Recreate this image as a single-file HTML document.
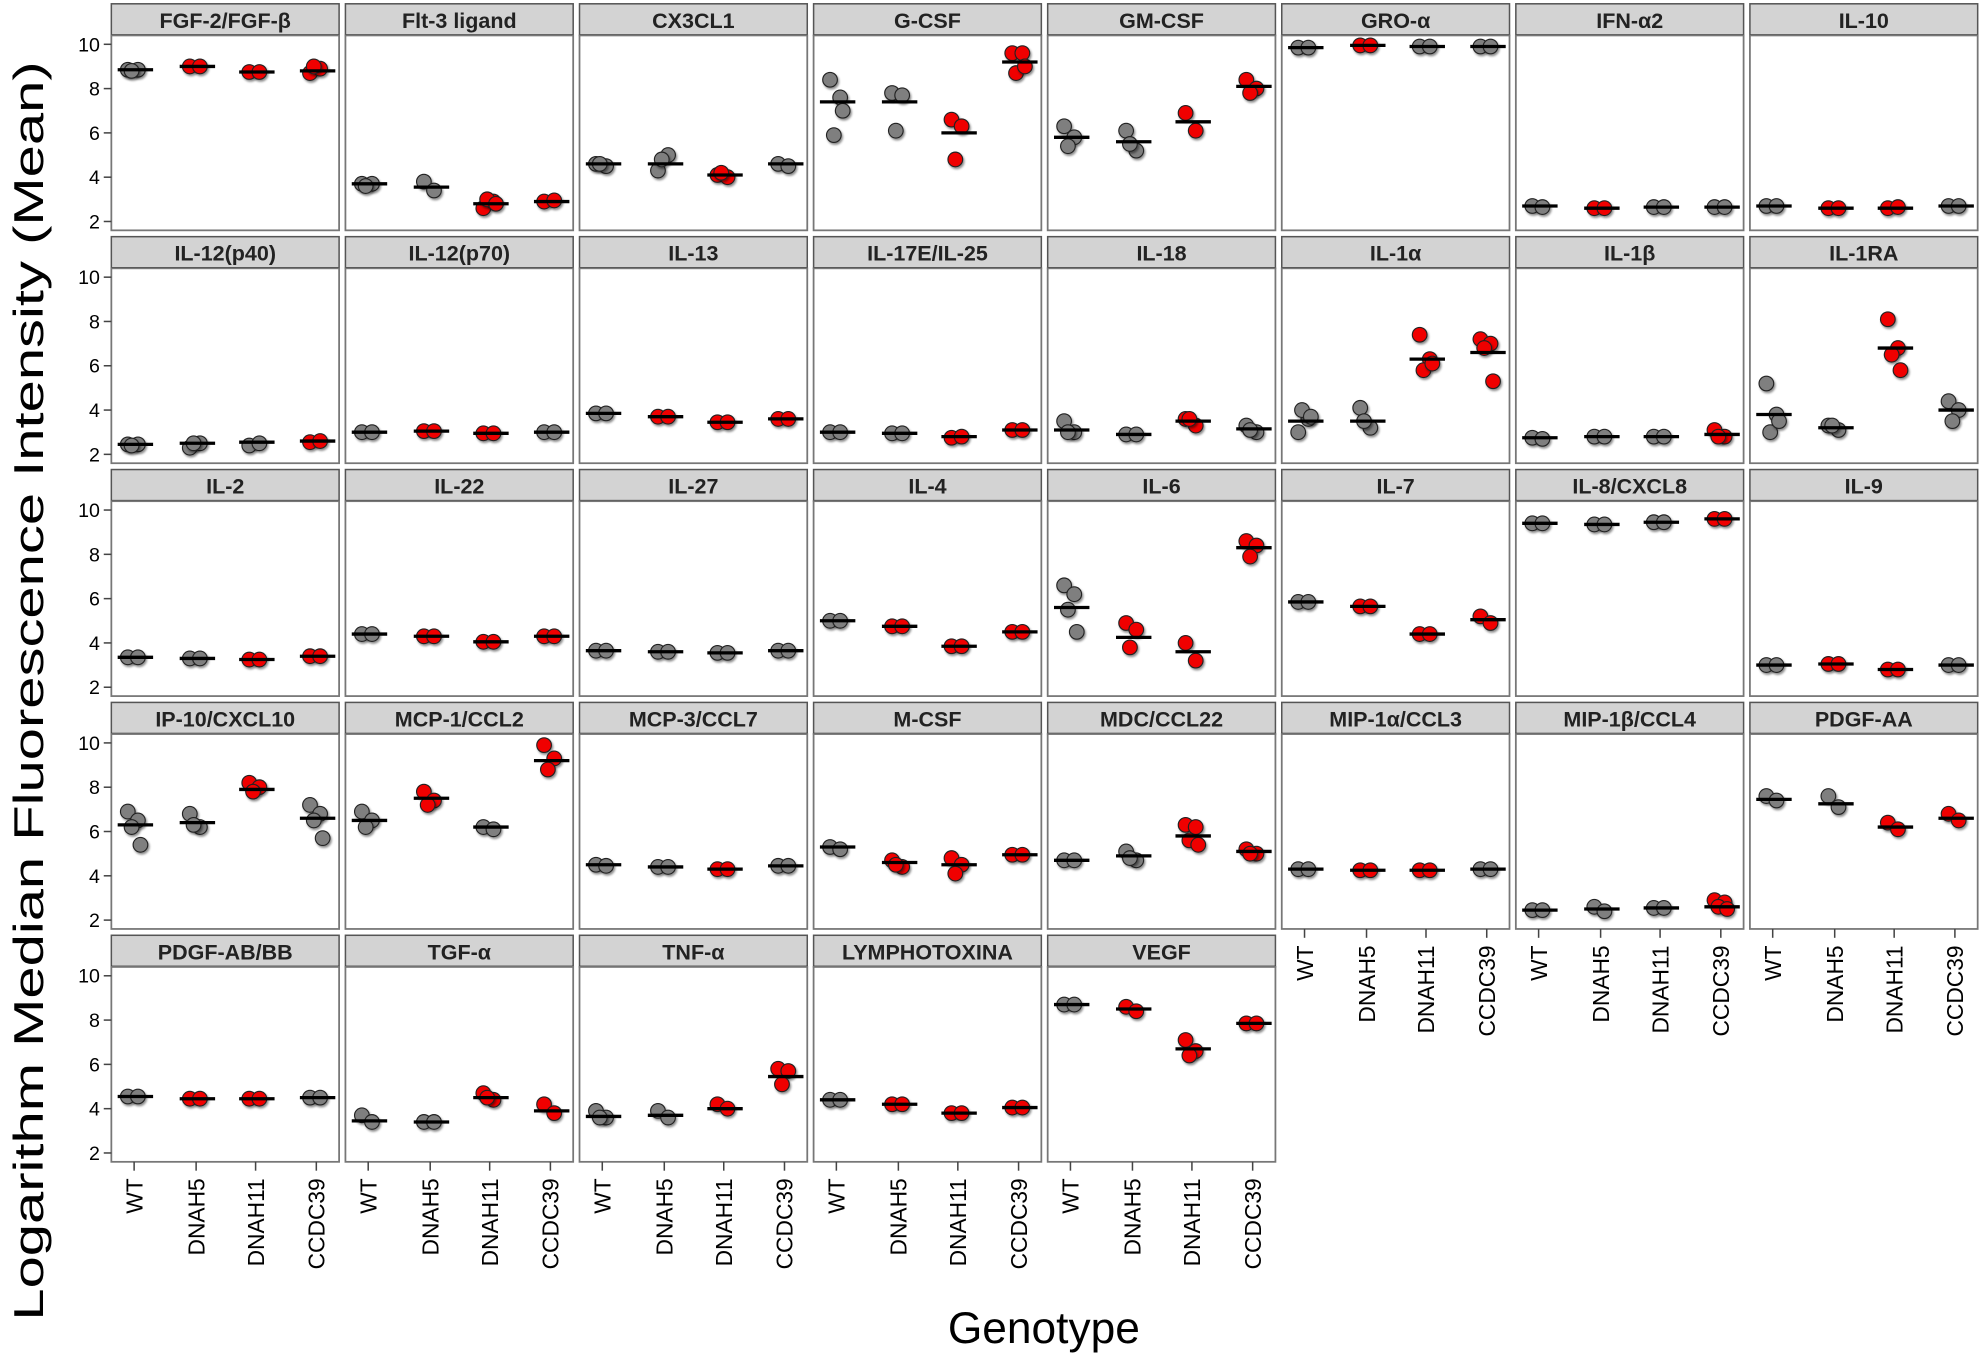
<!DOCTYPE html>
<html><head><meta charset="utf-8"><style>
html,body{margin:0;padding:0;background:#fff;}
svg{display:block;}
text{font-family:"Liberation Sans",Arial,sans-serif;}
</style></head><body>
<svg id="s" xmlns="http://www.w3.org/2000/svg" width="1984" height="1358" viewBox="0 0 1568 1073" preserveAspectRatio="none">
<defs><filter id="sh" x="-50%" y="-50%" width="200%" height="200%"><feDropShadow dx="1" dy="1.5" stdDeviation="0.8" flood-color="#000" flood-opacity="0.45"/></filter></defs>
<text x="0" y="0" transform="translate(34,546) rotate(-90)" font-size="33" text-anchor="middle" textLength="995" lengthAdjust="spacingAndGlyphs">Logarithm Median Fluorescence Intensity (Mean)</text>
<text x="825" y="1061" font-size="35" text-anchor="middle">Genotype</text>
</svg>
<script>
var G='g',R='r';
var P=[
["FGF-2/FGF-β",[[8.85,[8.85,8.85,8.8],G],[9.0,[9.0,9.0],R],[8.75,[8.75,8.75],R],[8.8,[8.7,8.9,9.0],R]]],
["Flt-3 ligand",[[3.7,[3.7,3.7,3.6],G],[3.55,[3.8,3.4],G],[2.8,[2.6,2.9,3.0,2.8],R],[2.9,[2.9,2.95],R]]],
["CX3CL1",[[4.6,[4.6,4.5,4.6],G],[4.6,[4.3,5.0,4.8],G],[4.1,[4.1,4.0,4.2],R],[4.6,[4.6,4.5],G]]],
["G-CSF",[[7.4,[8.4,7.6,5.9,7.0],G],[7.4,[7.8,7.7,6.1],G],[6.0,[6.6,6.3,4.8],R],[9.2,[9.6,9.6,8.7,9.0],R]]],
["GM-CSF",[[5.8,[6.3,5.8,5.4],G],[5.6,[6.1,5.2,5.5],G],[6.5,[6.9,6.1],R],[8.1,[8.4,8.0,7.8],R]]],
["GRO-α",[[9.85,[9.85,9.85],G],[9.95,[9.95,9.95],R],[9.9,[9.9,9.9],G],[9.9,[9.9,9.9],G]]],
["IFN-α2",[[2.7,[2.7,2.65],G],[2.6,[2.6,2.6],R],[2.65,[2.65,2.65],G],[2.65,[2.65,2.65],G]]],
["IL-10",[[2.7,[2.7,2.7],G],[2.6,[2.6,2.6],R],[2.6,[2.6,2.65],R],[2.7,[2.7,2.7],G]]],
["IL-12(p40)",[[2.45,[2.45,2.45,2.4],G],[2.5,[2.3,2.5,2.5],G],[2.55,[2.4,2.5],G],[2.6,[2.55,2.6],R]]],
["IL-12(p70)",[[3.0,[3.0,3.0],G],[3.05,[3.05,3.05],R],[2.95,[2.95,2.95],R],[3.0,[3.0,3.0],G]]],
["IL-13",[[3.85,[3.85,3.85],G],[3.7,[3.7,3.7],R],[3.45,[3.45,3.45],R],[3.6,[3.6,3.6],R]]],
["IL-17E/IL-25",[[3.0,[3.0,3.0],G],[2.95,[2.95,2.95],G],[2.8,[2.75,2.8],R],[3.1,[3.1,3.1],R]]],
["IL-18",[[3.1,[3.5,3.0,3.0],G],[2.9,[2.9,2.9],G],[3.5,[3.6,3.3,3.6],R],[3.15,[3.3,3.0,3.1],G]]],
["IL-1α",[[3.5,[3.0,3.6,4.0,3.7],G],[3.5,[4.1,3.2,3.5],G],[6.3,[7.4,6.3,5.8,6.1],R],[6.6,[7.2,7.0,6.8,5.3],R]]],
["IL-1β",[[2.75,[2.75,2.7],G],[2.8,[2.8,2.8],G],[2.8,[2.8,2.8],G],[2.9,[3.1,2.8,2.8],R]]],
["IL-1RA",[[3.8,[5.2,3.8,3.0,3.5],G],[3.2,[3.3,3.1,3.3],G],[6.8,[8.1,6.8,6.5,5.8],R],[4.0,[4.4,4.0,3.5],G]]],
["IL-2",[[3.35,[3.35,3.35],G],[3.3,[3.3,3.3],G],[3.25,[3.25,3.25],R],[3.4,[3.4,3.4],R]]],
["IL-22",[[4.4,[4.4,4.4],G],[4.3,[4.3,4.3],R],[4.05,[4.05,4.05],R],[4.3,[4.3,4.3],R]]],
["IL-27",[[3.65,[3.65,3.65],G],[3.6,[3.6,3.6],G],[3.55,[3.55,3.55],G],[3.65,[3.65,3.65],G]]],
["IL-4",[[5.0,[5.0,5.0],G],[4.75,[4.75,4.75],R],[3.85,[3.85,3.85],R],[4.5,[4.5,4.5],R]]],
["IL-6",[[5.6,[6.6,6.2,5.5,4.5],G],[4.25,[4.9,4.6,3.8],R],[3.6,[4.0,3.2],R],[8.3,[8.6,8.4,7.9],R]]],
["IL-7",[[5.85,[5.85,5.85],G],[5.65,[5.65,5.65],R],[4.4,[4.4,4.4],R],[5.05,[5.2,4.9],R]]],
["IL-8/CXCL8",[[9.4,[9.4,9.4],G],[9.35,[9.35,9.35],G],[9.45,[9.45,9.45],G],[9.6,[9.6,9.6],R]]],
["IL-9",[[3.0,[3.0,3.0],G],[3.05,[3.05,3.05],R],[2.8,[2.8,2.8],R],[3.0,[3.0,3.0],G]]],
["IP-10/CXCL10",[[6.3,[6.9,6.5,6.2,5.4],G],[6.4,[6.8,6.2,6.3],G],[7.9,[8.2,8.0,7.8],R],[6.6,[7.2,6.8,6.5,5.7],G]]],
["MCP-1/CCL2",[[6.5,[6.9,6.5,6.2],G],[7.5,[7.8,7.4,7.2],R],[6.2,[6.2,6.1],G],[9.2,[9.9,9.3,8.8],R]]],
["MCP-3/CCL7",[[4.5,[4.5,4.45],G],[4.4,[4.4,4.4],G],[4.3,[4.3,4.3],R],[4.45,[4.45,4.45],G]]],
["M-CSF",[[5.3,[5.3,5.2],G],[4.6,[4.7,4.4,4.5],R],[4.5,[4.8,4.5,4.1],R],[4.95,[4.95,4.95],R]]],
["MDC/CCL22",[[4.7,[4.7,4.7],G],[4.9,[5.1,4.7,4.8],G],[5.8,[6.3,6.2,5.6,5.4],R],[5.1,[5.2,5.0,5.0],R]]],
["MIP-1α/CCL3",[[4.3,[4.3,4.3],G],[4.25,[4.25,4.25],R],[4.25,[4.25,4.25],R],[4.3,[4.3,4.3],G]]],
["MIP-1β/CCL4",[[2.45,[2.45,2.45],G],[2.5,[2.6,2.4],G],[2.55,[2.55,2.55],G],[2.6,[2.9,2.8,2.6,2.5],R]]],
["PDGF-AA",[[7.45,[7.6,7.4],G],[7.25,[7.6,7.1],G],[6.2,[6.4,6.1],R],[6.6,[6.8,6.5],R]]],
["PDGF-AB/BB",[[4.55,[4.55,4.55],G],[4.45,[4.45,4.45],R],[4.45,[4.45,4.45],R],[4.5,[4.5,4.5],G]]],
["TGF-α",[[3.45,[3.7,3.4],G],[3.4,[3.4,3.4],G],[4.5,[4.7,4.4,4.5],R],[3.9,[4.2,3.8],R]]],
["TNF-α",[[3.65,[3.9,3.6,3.6],G],[3.7,[3.9,3.6],G],[4.0,[4.2,4.0],R],[5.45,[5.8,5.7,5.1],R]]],
["LYMPHOTOXINA",[[4.4,[4.4,4.4],G],[4.2,[4.2,4.2],R],[3.8,[3.8,3.8],R],[4.05,[4.05,4.05],R]]],
["VEGF",[[8.7,[8.7,8.7],G],[8.5,[8.6,8.4],R],[6.7,[7.1,6.6,6.4],R],[7.85,[7.85,7.85],R]]]
];
var s=document.getElementById('s'),h='';
var GN=['WT','DNAH5','DNAH11','CCDC39'],XO=[18,67,114,162],JX=[-5,3,-2,5,0];
function xlab(px,bot){for(var k=0;k<4;k++){var x=px+XO[k];h+='<line x1="'+x+'" y1="'+bot+'" x2="'+x+'" y2="'+(bot+7)+'" stroke="#444" stroke-width="1.2"/>';h+='<text transform="translate('+(x+6.5)+','+(bot+13)+') rotate(-90)" font-size="18" text-anchor="end">'+GN[k]+'</text>';}}
P.forEach(function(p,i){
 var r=Math.floor(i/8),c=i%8,px=88+c*185,st=3+r*184,pt=st+25,pb=pt+154;
 h+='<rect x="'+px+'" y="'+st+'" width="180" height="25" fill="#d3d3d3" stroke="#555" stroke-width="1.2"/>';
 h+='<line x1="'+px+'" y1="'+(st+25)+'" x2="'+(px+180)+'" y2="'+(st+25)+'" stroke="#333" stroke-width="2"/>';
 h+='<text x="'+(px+90)+'" y="'+(st+19)+'" font-size="17" font-weight="bold" text-anchor="middle" fill="#222">'+p[0]+'</text>';
 h+='<rect x="'+px+'" y="'+pt+'" width="180" height="154" fill="#fff" stroke="#777" stroke-width="1.4"/>';
 function Y(v){return pt+7+(10-v)*17.5;}
 p[1].forEach(function(gq,k){
  var cx=px+XO[k],fill=gq[2]==G?'#7f7f7f':'#f00000';
  gq[1].forEach(function(v,j){h+='<circle cx="'+(cx+JX[j%5])+'" cy="'+Y(v)+'" r="5.8" fill="'+fill+'" stroke="#222" stroke-width="0.9" filter="url(#sh)"/>';});
  h+='<line x1="'+(cx-13)+'" y1="'+Y(gq[0])+'" x2="'+(cx+15)+'" y2="'+Y(gq[0])+'" stroke="#000" stroke-width="2.6"/>';
 });
 if(c==0){[2,4,6,8,10].forEach(function(v){var y=Y(v);h+='<line x1="82" y1="'+y+'" x2="88" y2="'+y+'" stroke="#444" stroke-width="1.2"/><text x="79" y="'+(y+5.5)+'" font-size="15.5" text-anchor="end">'+v+'</text>';});}
 if(r==4||(r==3&&c>=5))xlab(px,pb);
});
s.insertAdjacentHTML('beforeend',h);
</script>
</body></html>
